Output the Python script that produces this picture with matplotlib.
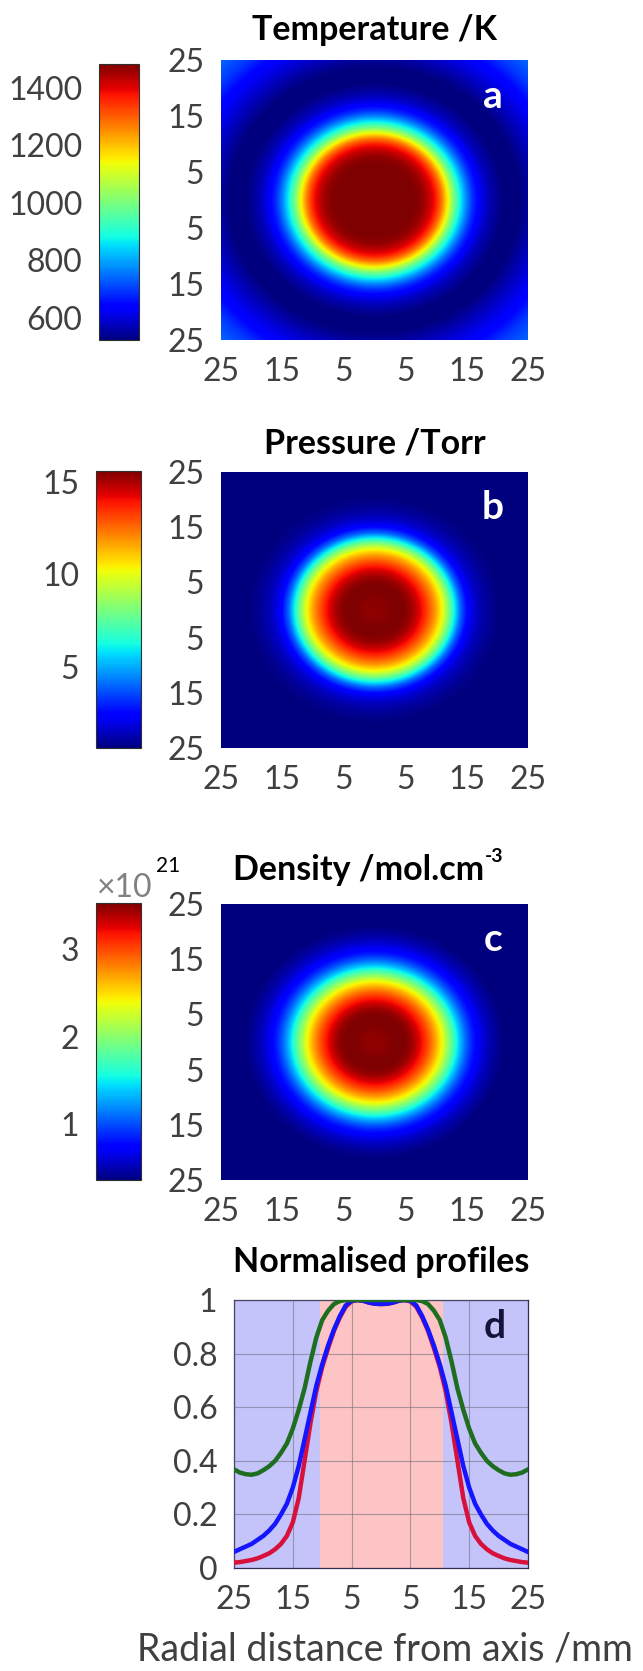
import numpy as np
import matplotlib
matplotlib.use("Agg")
import matplotlib.pyplot as plt

plt.rcParams['font.family'] = ['Lato', 'DejaVu Sans']

# radial profiles (normalised), r in mm
r_mm = [0, 1, 2, 3, 4, 5, 6, 7, 8, 9, 10, 11, 12, 13, 14, 15, 16, 17, 18, 19, 20,
        21, 22, 23, 24, 25, 27.5, 30, 32.5, 35.5]
temp_norm = [1.0, 1.0, 1.0, 1.0, 1.0, 1.0, 1.0, 0.996, 0.985, 0.96, 0.925, 0.86, 0.77,
             0.67, 0.59, 0.52, 0.465, 0.43, 0.40, 0.38, 0.365, 0.353, 0.348, 0.35,
             0.356, 0.368, 0.40, 0.43, 0.47, 0.50]
# red curve
pres_norm = [0.985, 0.986, 0.99, 0.997, 1.0, 0.995, 0.975, 0.935, 0.885, 0.82, 0.75,
             0.66, 0.54, 0.40, 0.26, 0.17, 0.12, 0.09, 0.07, 0.055, 0.045, 0.036,
             0.03, 0.026, 0.022, 0.02, 0.018, 0.017, 0.016, 0.015]
# blue curve
dens_norm = [0.985, 0.986, 0.99, 0.997, 1.0, 0.997, 0.98, 0.94, 0.89, 0.83, 0.76,
             0.68, 0.58, 0.48, 0.38, 0.30, 0.24, 0.20, 0.165, 0.14, 0.12, 0.105,
             0.09, 0.08, 0.07, 0.06, 0.055, 0.05, 0.047, 0.045]

# peak values / colour limits
temp_max, temp_lim = 1483, (523, 1483)
pres_max, pres_lim = 15.6, (0.6, 15.6)
dens_max, dens_lim = 3.53, (0.36, 3.53)

temp_ticks = [600, 800, 1000, 1200, 1400]
pres_ticks = [5, 10, 15]
dens_ticks = [1, 2, 3]

pos_ticks = [-25, -15, -5, 5, 15, 25]
pos_labels = ['25', '15', '5', '5', '15', '25']
prof_ticks = [0, 0.2, 0.4, 0.6, 0.8, 1]
prof_labels = ['0', '0.2', '0.4', '0.6', '0.8', '1']
hot_zone = 10.4  # half width of pink band in d

W, H = 643, 1671
GREY = '#404040'
TS = 23     # tick label size
TT = 24.5   # title size
LS = 28     # panel letters


def box(l, t, r, b):
    return [l / W, 1 - b / H, (r - l) / W, (b - t) / H]


def field(profile, peak):
    x = np.linspace(-25, 25, 400)
    X, Y = np.meshgrid(x, x)
    R = np.sqrt(X ** 2 + Y ** 2)
    return np.interp(R, r_mm, profile) * peak


def heatmap(fig, ax_box, cb_box, data, lim, ticks, title, title_y, letter):
    ax = fig.add_axes(box(*ax_box))
    im = ax.imshow(data, cmap='jet', vmin=lim[0], vmax=lim[1],
                   extent=[-25, 25, -25, 25], aspect='auto', origin='lower')
    ax.set_xticks(pos_ticks)
    ax.set_xticklabels(pos_labels)
    ax.set_yticks(pos_ticks)
    ax.set_yticklabels(pos_labels)
    ax.tick_params(length=0, labelsize=TS, colors=GREY, pad=12)
    for s in ax.spines.values():
        s.set_visible(False)
    ax.text(0.885, 0.87, letter, transform=ax.transAxes, color='white',
            fontsize=LS, fontweight='bold', ha='center', va='center')

    cax = fig.add_axes(box(*cb_box))
    cb = fig.colorbar(im, cax=cax, ticks=ticks)
    cax.yaxis.set_ticks_position('left')
    cax.tick_params(length=0, labelsize=TS, colors=GREY, pad=12)
    cb.outline.set_edgecolor('#303030')
    cb.outline.set_linewidth(0.8)

    if title:
        cx = (ax_box[0] + ax_box[2]) / 2 / W
        fig.text(cx, 1 - title_y / H, title, ha='center', va='center',
                 fontsize=TT, fontweight='bold', color='black')
    return ax


fig = plt.figure(figsize=(W / 100, H / 100), dpi=100)

heatmap(fig, (221, 60, 528, 340), (99, 64, 139, 340), field(temp_norm, temp_max),
        temp_lim, temp_ticks, 'Temperature /K', 30, 'a')
heatmap(fig, (221, 472, 528, 748), (96, 471, 141, 748), field(pres_norm, pres_max),
        pres_lim, pres_ticks, 'Pressure /Torr', 443, 'b')
heatmap(fig, (221, 904, 528, 1180), (96, 903, 141, 1180), field(dens_norm, dens_max),
        dens_lim, dens_ticks, None, 868, 'c')

# density title with a small "-3" superscript
fig.text(484 / W, 1 - 870 / H, 'Density /mol.cm', ha='right', va='center',
         fontsize=TT, fontweight='bold', color='black')
fig.text(485 / W, 1 - 856 / H, '-3', ha='left', va='center',
         fontsize=14, fontweight='bold', color='black')

# x10^21 multiplier above the density colourbar
fig.text(97 / W, 1 - 888 / H, '\u00d710', fontsize=TS, color='#808080', va='center')
fig.text(156 / W, 1 - 866 / H, '21', fontsize=15, color='black', va='center')

# panel d: normalised profiles
ax = fig.add_axes(box(234, 1300, 528, 1568))
r = np.array(r_mm[:26])
xs = np.concatenate([-r[::-1], r[1:]])


def mirror(p):
    p = np.array(p[:26])
    return np.concatenate([p[::-1], p[1:]])


ax.axvspan(-25, -hot_zone, color='#c4c4fa', zorder=0)
ax.axvspan(hot_zone, 25, color='#c4c4fa', zorder=0)
ax.axvspan(-hot_zone, hot_zone, color='#fcc4c4', zorder=0)
ax.plot(xs, mirror(pres_norm), color='#d8103c', lw=3.2, zorder=3)
ax.plot(xs, mirror(dens_norm), color='#1515ff', lw=3.2, zorder=4)
ax.plot(xs, mirror(temp_norm), color='#1f6e1f', lw=3.2, zorder=5)
ax.set_xlim(-25, 25)
ax.set_ylim(0, 1)
ax.set_xticks(pos_ticks)
ax.set_xticklabels(pos_labels)
ax.set_yticks(prof_ticks)
ax.set_yticklabels(prof_labels)
ax.grid(True, color='#606070', lw=0.8, alpha=0.5)
ax.set_axisbelow(False)
ax.tick_params(length=0, labelsize=TS, colors=GREY, pad=12)
for s in ax.spines.values():
    s.set_color('#303050')
    s.set_linewidth(0.9)
ax.text(0.886, 0.9, 'd', transform=ax.transAxes, color='#14143a',
        fontsize=LS, fontweight='bold', ha='center', va='center')
fig.text(381 / W, 1 - 1262 / H, 'Normalised profiles', ha='center', va='center',
         fontsize=TT, fontweight='bold', color='black')
fig.text(385 / W, 1 - 1650 / H, 'Radial distance from axis /mm', ha='center',
         va='center', fontsize=27, color=GREY)

fig.savefig('out.png', dpi=100)
